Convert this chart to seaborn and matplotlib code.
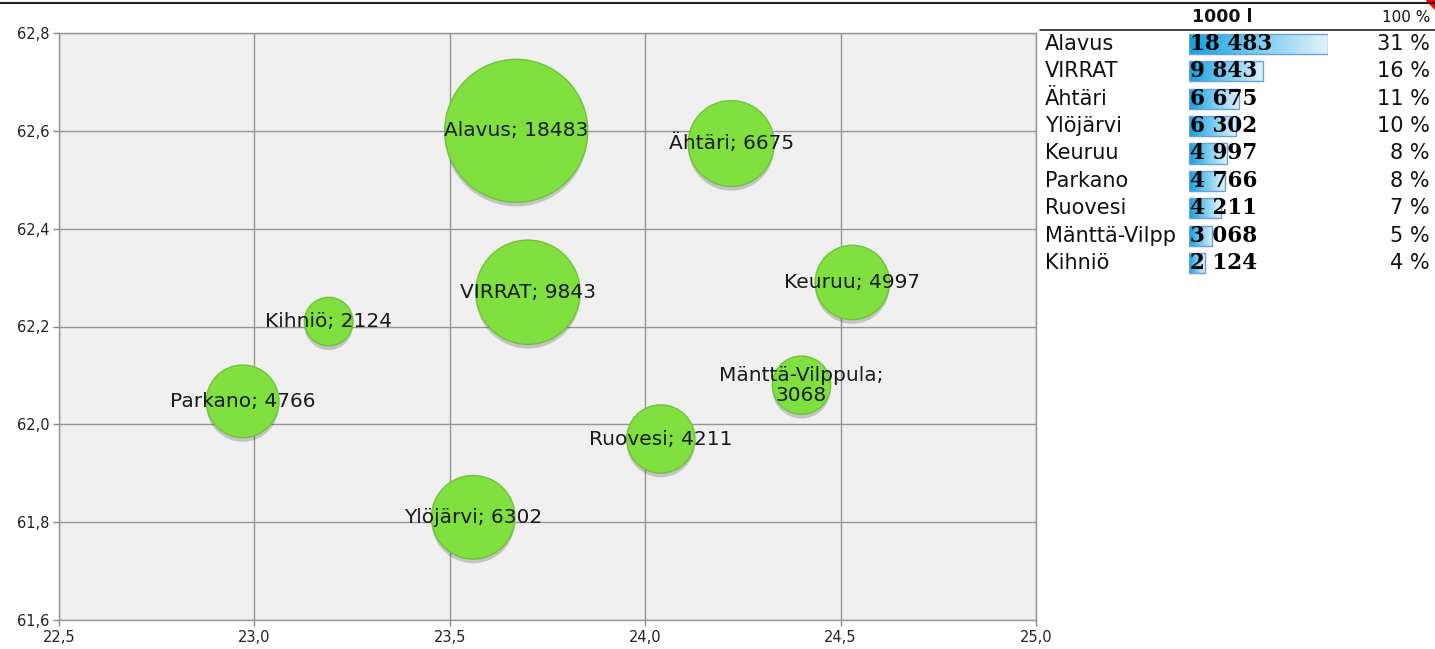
import numpy as np
import pandas as pd
import seaborn as sns
import matplotlib.pyplot as plt
import matplotlib.transforms as mtransforms
from matplotlib.colors import LinearSegmentedColormap

# bubble data: longitude, latitude, volume (1000 l)
towns = ['Alavus', 'Ähtäri', 'VIRRAT', 'Keuruu', 'Kihniö', 'Parkano',
         'Mänttä-Vilppula', 'Ruovesi', 'Ylöjärvi']
lon = [23.67, 24.22, 23.70, 24.53, 23.19, 22.97, 24.40, 24.04, 23.56]
lat = [62.60, 62.574, 62.27, 62.29, 62.21, 62.047, 62.08, 61.97, 61.81]
volume = [18483, 6675, 9843, 4997, 2124, 4766, 3068, 4211, 6302]

# table on the right (sorted)
table_names = ['Alavus', 'VIRRAT', 'Ähtäri', 'Ylöjärvi', 'Keuruu', 'Parkano',
               'Ruovesi', 'Mänttä-Vilpp', 'Kihniö']
table_values = [18483, 9843, 6675, 6302, 4997, 4766, 4211, 3068, 2124]
table_pct = ['31 %', '16 %', '11 %', '10 %', '8 %', '8 %', '7 %', '5 %', '4 %']

sns.set_style('white')
plt.rcParams['font.family'] = ['DejaVu Sans']

W, H = 1435, 649
fig = plt.figure(figsize=(W / 100, H / 100), dpi=100)


def px_axes(x0, y0, x1, y1):
    # axes from pixel box (top-left origin)
    return fig.add_axes([x0 / W, 1 - y1 / H, (x1 - x0) / W, (y1 - y0) / H])


# ---- bubble chart ----
ax = px_axes(59, 33, 1036, 620)
ax.set_facecolor('#f0f0f0')
df = pd.DataFrame({'town': towns, 'lon': lon, 'lat': lat, 'volume': volume})
max_area = 10600

# soft shadow under the bubbles
sns.scatterplot(data=df, x='lon', y='lat', size='volume', size_norm=(0, max(volume)),
                sizes=(0, max_area), color='#000000', alpha=0.18, linewidth=0,
                legend=False, ax=ax, zorder=2)
shadow = ax.collections[-1]
shadow.set_offset_transform(ax.transData + mtransforms.ScaledTranslation(0, -3 / 72, fig.dpi_scale_trans))

sns.scatterplot(data=df, x='lon', y='lat', size='volume', size_norm=(0, max(volume)),
                sizes=(0, max_area), color='#80e040', edgecolor='#6cc535',
                linewidth=1.0, legend=False, ax=ax, zorder=3)

for _, r in df.iterrows():
    label = f"{r['town']}; {r['volume']}"
    if r['town'] == 'Mänttä-Vilppula':
        label = f"{r['town']};\n{r['volume']}"
    ax.text(r['lon'], r['lat'], label, ha='center', va='center', fontsize=14.5,
            color='#1a1a1a', zorder=5, linespacing=1.05)

ax.set_xlim(22.5, 25.0)
ax.set_ylim(61.6, 62.8)
xt = np.arange(22.5, 25.01, 0.5)
yt = np.arange(61.6, 62.81, 0.2)
ax.set_xticks(xt)
ax.set_yticks(yt)
ax.set_xticklabels([f'{v:.1f}'.replace('.', ',') for v in xt])
ax.set_yticklabels([f'{v:.1f}'.replace('.', ',') for v in yt])
ax.grid(True, color='#959595', linewidth=1)
ax.set_axisbelow(True)
ax.tick_params(axis='both', labelsize=10.5, colors='#888888', labelcolor='#222222',
               length=4, width=1, direction='out', bottom=True, left=True, pad=3)
for s in ax.spines.values():
    s.set_color('#959595')
    s.set_linewidth(1)
ax.set_xlabel('')
ax.set_ylabel('')

# ---- table with data bars ----
bx = px_axes(1189, 30.3, 1328, 276.7)
tdf = pd.DataFrame({'name': table_names, 'value': table_values})
sns.barplot(data=tdf, x='value', y='name', orient='h', width=0.74, color='#1fa0de',
            edgecolor='#6a9fd8', linewidth=1, ax=bx)
bx.axis('off')

cmap = LinearSegmentedColormap.from_list('bar', ['#12a0e2', '#e2f3fc'])
grad = np.linspace(0, 1, 256).reshape(1, -1)
for p in bx.patches:
    x0, y0 = p.get_x(), p.get_y()
    w, h = p.get_width(), p.get_height()
    im = bx.imshow(grad, cmap=cmap, aspect='auto', extent=(x0, x0 + w, y0 + h, y0),
                   zorder=p.get_zorder() - 0.1)
    im.set_clip_path(p)
    p.set_facecolor('none')
bx.set_xlim(0, max(table_values))
bx.set_ylim(8.5, -0.5)

trans = mtransforms.blended_transform_factory(fig.transFigure, bx.transData)
for i, (n, v, pc) in enumerate(zip(table_names, table_values, table_pct)):
    fig.text(1045 / W, i, n, transform=trans, ha='left', va='center',
             fontsize=15, color='#111111')
    fig.text(1190 / W, i, f'{v:,}'.replace(',', ' '), transform=trans, ha='left',
             va='center', fontsize=15.5, fontweight='bold', family='DejaVu Serif',
             color='#000000', zorder=10)
    fig.text(1430 / W, i, pc, transform=trans, ha='right', va='center',
             fontsize=15, color='#111111')

fig.text(1222 / W, 1 - 17 / H, '1000 l', ha='center', va='center', fontsize=12.5,
         fontweight='bold', color='#111111')
fig.text(1430 / W, 1 - 18 / H, '100 %', ha='right', va='center', fontsize=11,
         color='#111111')

# frame lines
fig.add_artist(plt.Line2D([0, 1], [1 - 3 / H, 1 - 3 / H], color='#222222', linewidth=1.5))
fig.add_artist(plt.Line2D([1040 / W, 1], [1 - 30 / H, 1 - 30 / H], color='#222222', linewidth=1.2))
fig.add_artist(plt.Polygon([[1 - 9 / W, 1], [1, 1], [1, 1 - 9 / H]], closed=True,
                           color='red', transform=fig.transFigure))

fig.savefig('out.png', dpi=100)
